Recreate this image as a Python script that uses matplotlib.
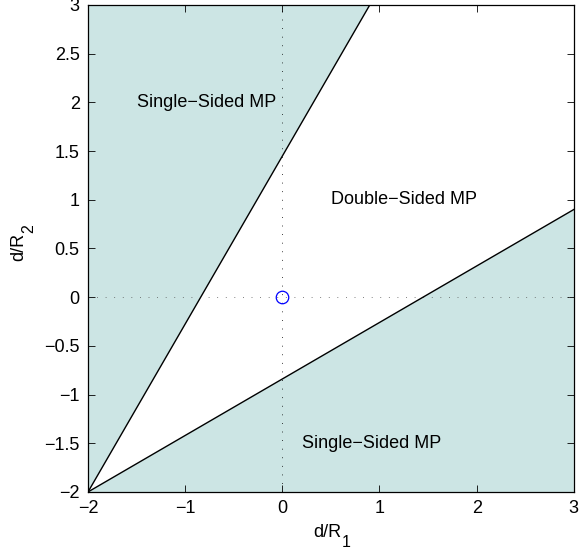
import matplotlib
matplotlib.use("Agg")
import matplotlib.pyplot as plt
from matplotlib.transforms import offset_copy

# region boundaries (both start at the lower-left corner)
upper_x = [-2, 0.9]
upper_y = [-2, 3]
lower_x = [-2, 3]
lower_y = [-2, 0.9]

xlim = [-2, 3]
ylim = [-2, 3]
xticks = [-2, -1, 0, 1, 2, 3]
yticks = [-2, -1.5, -1, -0.5, 0, 0.5, 1, 1.5, 2, 2.5, 3]

labels = ["Single\u2212Sided MP", "Double\u2212Sided MP", "Single\u2212Sided MP"]
label_x = [-1.5, 0.5, 0.2]
label_y = [2.0, 1.0, -1.5]

origin_x = [0]
origin_y = [0]

plt.rcParams['font.family'] = ['Liberation Sans', 'DejaVu Sans']
plt.rcParams['font.size'] = 13

fig = plt.figure(figsize=(5.79, 5.54), dpi=100)
ax = fig.add_axes([0.152, 0.112, 0.839, 0.879])

fill_color = '#cce5e4'
# shaded single-sided regions
ax.fill([upper_x[0], upper_x[1], xlim[0]], [upper_y[0], upper_y[1], ylim[1]],
        color=fill_color, lw=0, zorder=1)
ax.fill([lower_x[0], lower_x[1], xlim[1]], [lower_y[0], lower_y[1], ylim[0]],
        color=fill_color, lw=0, zorder=1)

ax.plot(upper_x, upper_y, color='black', lw=1, zorder=3)
ax.plot(lower_x, lower_y, color='black', lw=1, zorder=3)

# dotted axes through the origin
ax.axvline(0, color='black', lw=0.6, dashes=(1, 9.3), zorder=2)
ax.axhline(0, color='#555555', lw=0.6, dashes=(1, 9.3), zorder=2)

ax.plot(origin_x, origin_y, 'o', mfc='none', mec='blue', ms=9, mew=0.9, zorder=4)

for t, x, y in zip(labels, label_x, label_y):
    ax.text(x, y, t, ha='left', va='center', fontsize=13)

ax.set_xlim(xlim)
ax.set_ylim(ylim)
ax.set_xticks(xticks)
ax.set_yticks(yticks)
ax.set_xticklabels([f"{v:g}".replace('-', '\u2212') for v in xticks])
ax.set_yticklabels([f"{v:g}".replace('-', '\u2212') for v in yticks])
ax.tick_params(direction='in', top=True, right=True, length=5, width=0.6, pad=6)
for s in ax.spines.values():
    s.set_linewidth(0.9)

# axis labels with MATLAB-like big subscripts
def at(x, y, dx, dy):
    return offset_copy(ax.transAxes, fig=fig, x=dx, y=dy, units='points')

ax.text(0.5, 0, 'd/R', transform=at(0.5, 0, 7.7, -32.4), ha='right', va='baseline',
        fontsize=13)
ax.text(0.5, 0, '1', transform=at(0.5, 0, 7.7, -39.4), ha='left', va='baseline',
        fontsize=11.5)
ax.text(0, 0.5, 'd/R', transform=at(0, 0.5, -46.8, 11.2), ha='right', va='baseline',
        rotation=90, rotation_mode='anchor', fontsize=13)
ax.text(0, 0.5, '2', transform=at(0, 0.5, -39.6, 11.2), ha='left', va='baseline',
        rotation=90, rotation_mode='anchor', fontsize=11.5)

fig.savefig('out.png', dpi=100)
